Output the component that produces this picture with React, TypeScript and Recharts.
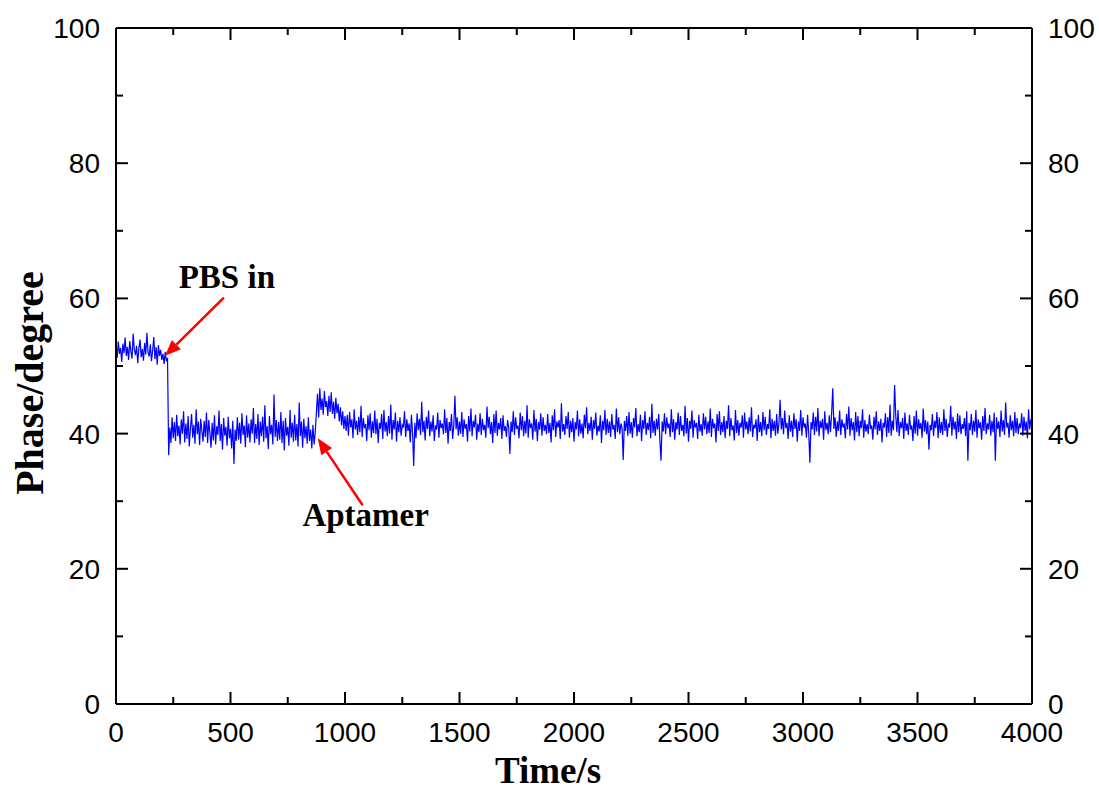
import {
  LineChart,
  Line,
  XAxis,
  YAxis,
  Label,
  ReferenceLine,
  ReferenceDot,
} from "recharts";

// phase readings, one every 5 s
const STEP = 5;

// 0 - 225 s, before PBS
const phaseStart = [
  52.9, 51.2, 53.6, 51.8, 52.7, 50.6, 53.3, 51.9, 54.2, 51.5,
  52.8, 50.9, 53.7, 52.2, 51.1, 54.8, 52.4, 51.6, 53.0, 50.4,
  52.6, 53.9, 51.3, 52.5, 50.8, 53.4, 51.7, 54.9, 52.0, 51.4,
  53.2, 50.7, 52.3, 54.3, 51.0, 52.8, 50.2, 53.1, 51.5, 52.4,
  50.9, 51.8, 50.3, 52.1, 50.7, 51.2,
];

// 230 - 870 s, PBS in
const phasePbs = [
  36.8, 40.9, 38.6, 42.4, 39.3, 41.7, 38.9, 42.8, 39.6, 41.2,
  38.4, 42.1, 40.0, 43.3, 38.7, 41.5, 39.2, 42.6, 38.1, 40.8,
  42.9, 39.4, 41.3, 38.5, 43.6, 39.9, 41.8, 38.3, 42.2, 40.4,
  38.8, 41.9, 39.5, 43.1, 38.6, 42.0, 40.1, 37.9, 41.6, 39.0,
  42.7, 38.4, 41.1, 39.8, 43.4, 38.9, 41.4, 37.6, 42.3, 39.7,
  41.0, 38.2, 42.5, 39.3, 40.7, 37.8, 41.9, 35.5, 40.6, 38.9,
  42.4, 39.1, 41.6, 38.5, 43.0, 39.8, 41.2, 38.0, 42.7, 39.4,
  41.5, 38.7, 42.1, 40.0, 43.8, 38.6, 41.4, 39.2, 42.9, 38.3,
  41.8, 39.6, 42.5, 38.8, 44.2, 39.3, 41.1, 37.7, 42.6, 39.9,
  41.3, 38.4, 45.8, 39.5, 42.0, 38.9, 41.7, 39.1, 43.2, 38.6,
  41.9, 37.5, 42.3, 39.7, 41.0, 38.2, 43.5, 39.4, 41.6, 38.8,
  42.8, 39.0, 41.4, 38.1, 44.6, 39.6, 41.8, 37.9, 42.2, 39.3,
  41.1, 38.5, 42.4, 38.9, 40.6, 37.8, 41.3, 38.4, 40.2,
];

// 875 - 1000 s, aptamer added
const phaseAptamer = [
  43.1, 45.9, 42.4, 46.7, 43.5, 45.2, 42.8, 46.3, 43.9, 44.8,
  42.6, 45.6, 43.2, 46.1, 42.9, 44.7, 42.2, 45.3, 43.0, 44.4,
  41.8, 43.9, 41.2, 43.3, 40.7, 42.6,
];

// 1005 - 4000 s
const phaseLate = [
  40.4, 42.8, 39.7, 43.2, 40.9, 42.1, 39.3, 43.6, 40.6, 41.9,
  39.8, 42.5, 40.2, 44.1, 39.5, 42.3, 40.8, 41.4, 38.9, 42.7,
  40.5, 43.0, 39.4, 41.8, 40.1, 43.4, 39.9, 42.2, 38.6, 41.6,
  40.7, 42.9, 39.2, 43.5, 40.3, 41.7, 39.6, 42.6, 40.0, 44.3,
  39.1, 42.0, 40.6, 43.1, 38.8, 41.9, 40.2, 42.4, 39.7, 41.3,
  40.9, 43.3, 39.5, 42.1, 40.4, 41.5, 38.7, 42.8, 40.1, 35.2,
  41.6, 39.3, 43.0, 40.5, 42.2, 39.8, 44.7, 40.2, 41.9, 39.0,
  42.5, 40.7, 43.4, 39.6, 41.8, 40.3, 42.7, 38.9, 41.2, 40.6,
  43.1, 39.4, 42.0, 40.8, 41.5, 39.9, 43.6, 40.1, 42.3, 38.5,
  41.7, 40.4, 42.9, 39.2, 41.1, 45.6, 40.6, 42.4, 39.7, 41.8,
  40.0, 43.2, 39.5, 42.1, 40.7, 41.4, 38.8, 42.6, 40.3, 43.7,
  39.6, 41.9, 40.9, 42.8, 39.1, 41.5, 40.2, 43.0, 39.8, 42.2,
  40.5, 41.3, 39.4, 44.0, 40.8, 42.5, 39.9, 41.7, 38.6, 42.9,
  40.1, 43.4, 39.7, 41.6, 40.6, 42.3, 39.2, 42.7, 40.4, 41.1,
  39.5, 42.0, 40.9, 37.0, 41.8, 40.2, 43.3, 39.8, 42.4, 40.7,
  41.2, 39.3, 43.1, 40.5, 42.6, 39.6, 41.9, 40.0, 44.2, 39.4,
  42.1, 40.8, 41.5, 39.1, 43.5, 40.3, 42.2, 38.9, 41.7, 40.6,
  43.0, 39.7, 42.4, 40.4, 41.3, 39.9, 42.9, 40.1, 41.6, 38.7,
  42.7, 40.5, 43.6, 39.5, 41.8, 40.9, 42.0, 39.2, 44.5, 40.3,
  41.4, 39.8, 42.6, 40.7, 43.2, 39.4, 41.9, 40.2, 42.3, 38.8,
  41.7, 40.6, 43.4, 39.6, 42.1, 40.0, 41.5, 39.3, 42.8, 40.8,
  43.9, 39.9, 41.6, 40.4, 42.5, 39.1, 42.0, 40.7, 43.1, 39.7,
  41.2, 40.3, 42.7, 38.6, 41.9, 40.5, 43.5, 39.8, 42.2, 40.1,
  41.8, 39.5, 42.9, 40.6, 41.3, 39.2, 43.7, 40.2, 42.4, 39.9,
  41.5, 40.8, 36.1, 41.9, 40.4, 42.6, 39.7, 43.2, 40.0, 41.7,
  39.4, 42.3, 40.9, 43.8, 39.6, 41.4, 40.2, 42.8, 38.9, 42.0,
  40.7, 43.3, 39.8, 41.6, 40.5, 42.5, 39.3, 44.4, 40.1, 41.9,
  39.7, 42.2, 40.6, 42.9, 39.0, 36.0, 41.8, 40.3, 43.0, 39.9,
  42.4, 40.8, 41.5, 39.5, 43.6, 40.2, 42.1, 39.1, 41.7, 40.6,
  43.1, 39.8, 42.6, 40.4, 41.3, 39.6, 44.1, 40.0, 42.3, 38.8,
  41.9, 40.7, 43.4, 39.4, 42.0, 40.9, 41.6, 39.2, 42.8, 40.3,
  41.4, 39.7, 43.0, 40.6, 42.5, 39.9, 41.8, 40.1, 43.7, 39.5,
  42.2, 40.8, 41.5, 38.7, 42.9, 40.4, 43.3, 39.8, 41.7, 40.2,
  42.6, 39.3, 41.9, 40.7, 44.2, 39.6, 42.3, 40.5, 41.2, 39.0,
  43.5, 40.1, 42.0, 39.7, 41.6, 40.9, 42.7, 39.4, 43.1, 40.6,
  41.8, 39.9, 42.4, 40.3, 43.9, 39.5, 41.3, 40.8, 42.1, 38.9,
  42.8, 40.2, 41.7, 39.6, 43.2, 40.5, 42.5, 39.8, 41.4, 40.7,
  43.6, 39.3, 42.2, 40.4, 41.9, 39.7, 42.9, 40.0, 41.5, 45.0,
  40.6, 42.3, 39.9, 43.4, 40.8, 41.6, 39.2, 42.7, 40.3, 41.9,
  39.5, 43.0, 40.7, 42.1, 38.8, 41.8, 40.4, 43.5, 39.7, 42.4,
  40.9, 41.5, 39.4, 42.8, 40.1, 35.7, 41.7, 40.6, 43.1, 39.8,
  42.5, 40.3, 43.8, 39.6, 41.9, 40.8, 42.2, 39.1, 43.3, 40.5,
  41.6, 39.9, 42.7, 40.2, 43.0, 46.7, 40.7, 42.4, 39.5, 41.8,
  40.4, 43.4, 39.8, 42.1, 40.9, 41.5, 39.3, 42.9, 40.6, 44.0,
  39.7, 42.3, 40.5, 41.7, 39.0, 43.2, 40.2, 42.6, 39.6, 41.9,
  40.8, 43.6, 39.4, 42.0, 40.3, 41.4, 39.9, 42.8, 40.7, 41.2,
  39.1, 42.5, 40.6, 43.3, 39.8, 41.8, 40.4, 42.2, 38.7, 41.6,
  40.9, 43.0, 39.5, 42.4, 40.1, 44.3, 39.7, 41.9, 40.5, 47.2,
  42.7, 40.2, 43.5, 39.6, 41.7, 40.8, 42.3, 39.2, 43.1, 40.4,
  41.5, 39.8, 42.8, 40.6, 41.2, 38.9, 42.6, 40.0, 43.4, 39.7,
  42.1, 40.7, 41.6, 39.4, 43.7, 40.3, 42.0, 39.9, 41.8, 37.6,
  41.3, 40.5, 42.9, 39.6, 41.9, 40.8, 43.2, 39.3, 42.4, 40.1,
  41.7, 39.8, 43.6, 40.4, 42.2, 39.5, 41.5, 40.9, 44.1, 39.7,
  42.5, 40.6, 41.8, 39.2, 43.0, 40.2, 42.7, 39.9, 41.4, 40.7,
  42.3, 39.6, 43.3, 36.0, 41.6, 40.5, 42.9, 39.8, 41.9, 40.3,
  43.5, 39.4, 42.1, 40.8, 41.7, 39.1, 42.6, 40.4, 43.8, 39.9,
  41.5, 40.6, 42.8, 39.7, 41.9, 40.2, 43.1, 36.0, 42.4, 40.7,
  41.8, 39.5, 43.4, 40.3, 42.0, 39.8, 44.6, 40.9, 41.6, 39.4,
  42.7, 40.5, 41.9, 39.6, 43.2, 40.1, 42.3, 39.9, 41.5, 40.8,
  43.0, 39.7, 42.5, 40.4, 41.8, 39.3, 43.6, 40.6, 42.1, 41.2,
];

const xTicks = [
  0, 250, 500, 750, 1000, 1250, 1500, 1750, 2000, 2250, 2500, 2750, 3000,
  3250, 3500, 3750, 4000,
];
const yTicks = [0, 10, 20, 30, 40, 50, 60, 70, 80, 90, 100];

const data = [...phaseStart, ...phasePbs, ...phaseAptamer, ...phaseLate].map(
  (v, i) => ({ t: i * STEP, phase: v })
);

const tickFont = "'Liberation Sans', Arial, sans-serif";
const titleFont = "'Liberation Serif', 'Times New Roman', serif";

const BottomTick = ({ x, y, payload }: any) => {
  const major = payload.value % 500 === 0;
  return (
    <g>
      <line x1={x} x2={x} y1={y} y2={y - (major ? 12 : 7)} stroke="#000" strokeWidth={2} />
      {major && (
        <text x={x} y={y + 38} textAnchor="middle" fontSize={28} fontFamily={tickFont} fill="#000">
          {payload.value}
        </text>
      )}
    </g>
  );
};

const TopTick = ({ x, y, payload }: any) => {
  const major = payload.value % 500 === 0;
  return <line x1={x} x2={x} y1={y} y2={y + (major ? 12 : 7)} stroke="#000" strokeWidth={2} />;
};

const LeftTick = ({ x, y, payload }: any) => {
  const major = payload.value % 20 === 0;
  return (
    <g>
      <line x1={x} x2={x + (major ? 12 : 7)} y1={y} y2={y} stroke="#000" strokeWidth={2} />
      {major && (
        <text x={x - 16} y={y + 10} textAnchor="end" fontSize={28} fontFamily={tickFont} fill="#000">
          {payload.value}
        </text>
      )}
    </g>
  );
};

const RightTick = ({ x, y, payload }: any) => {
  const major = payload.value % 20 === 0;
  return (
    <g>
      <line x1={x} x2={x - (major ? 12 : 7)} y1={y} y2={y} stroke="#000" strokeWidth={2} />
      {major && (
        <text x={x + 16} y={y + 10} textAnchor="start" fontSize={28} fontFamily={tickFont} fill="#000">
          {payload.value}
        </text>
      )}
    </g>
  );
};

// red arrow, tip at the second point of the segment
const Arrow = (props: any) => {
  const { x1, y1, x2, y2 } = props;
  const a = Math.atan2(y2 - y1, x2 - x1);
  const len = 16;
  const half = 6.5;
  const bx = x2 - len * Math.cos(a);
  const by = y2 - len * Math.sin(a);
  const px = -Math.sin(a) * half;
  const py = Math.cos(a) * half;
  return (
    <g>
      <line x1={x1} y1={y1} x2={bx} y2={by} stroke="#ff0000" strokeWidth={2.5} />
      <polygon
        points={`${x2},${y2} ${bx + px},${by + py} ${bx - px},${by - py}`}
        fill="#ff0000"
      />
    </g>
  );
};

const Note = (text: string) => (props: any) =>
  (
    <text
      x={props.cx}
      y={props.cy}
      textAnchor="middle"
      fontSize={33}
      fontWeight="bold"
      fontFamily={titleFont}
      fill="#000"
    >
      {text}
    </text>
  );

export default function App() {
  return (
    <div style={{ position: "absolute", left: 0, top: 0, background: "#fff" }}>
      <LineChart
        width={1099}
        height={791}
        data={data}
        margin={{ top: 0, right: 0, bottom: 0, left: 0 }}
      >
        <XAxis
          dataKey="t"
          type="number"
          domain={[0, 4000]}
          ticks={xTicks}
          allowDataOverflow
          height={87}
          tickSize={0}
          tickMargin={0}
          tickLine={false}
          axisLine={{ stroke: "#000", strokeWidth: 2 }}
          tick={<BottomTick />}
          interval={0}
        >
          <Label
            content={(p: any) => (
              <text
                x={p.viewBox.x + 432}
                y={p.viewBox.y + 79}
                textAnchor="middle"
                fontSize={37}
                fontWeight="bold"
                fontFamily={titleFont}
                fill="#000"
              >
                Time/s
              </text>
            )}
          />
        </XAxis>
        <XAxis
          xAxisId="top"
          orientation="top"
          dataKey="t"
          type="number"
          domain={[0, 4000]}
          ticks={xTicks}
          allowDataOverflow
          height={28}
          tickSize={0}
          tickMargin={0}
          tickLine={false}
          axisLine={{ stroke: "#000", strokeWidth: 2 }}
          tick={<TopTick />}
          interval={0}
        />
        <YAxis
          type="number"
          domain={[0, 100]}
          ticks={yTicks}
          allowDataOverflow
          width={116}
          tickSize={0}
          tickMargin={0}
          tickLine={false}
          axisLine={{ stroke: "#000", strokeWidth: 2 }}
          tick={<LeftTick />}
          interval={0}
        >
          <Label
            content={(p: any) => {
              const cx = p.viewBox.x + 43;
              const cy = p.viewBox.y + 355;
              return (
                <text
                  x={cx}
                  y={cy}
                  transform={`rotate(-90, ${cx}, ${cy})`}
                  textAnchor="middle"
                  fontSize={40}
                  fontWeight="bold"
                  fontFamily={titleFont}
                  fill="#000"
                >
                  Phase/degree
                </text>
              );
            }}
          />
        </YAxis>
        <YAxis
          yAxisId="right"
          orientation="right"
          type="number"
          domain={[0, 100]}
          ticks={yTicks}
          allowDataOverflow
          width={67}
          tickSize={0}
          tickMargin={0}
          tickLine={false}
          axisLine={{ stroke: "#000", strokeWidth: 2 }}
          tick={<RightTick />}
          interval={0}
        />
        <Line
          dataKey="phase"
          type="linear"
          stroke="#0000ff"
          strokeWidth={1.2}
          dot={false}
          isAnimationActive={false}
        />
        <ReferenceLine
          segment={[
            { x: 471, y: 60.1 },
            { x: 214, y: 51.5 },
          ]}
          shape={<Arrow />}
        />
        <ReferenceLine
          segment={[
            { x: 1077, y: 29.4 },
            { x: 881, y: 39.3 },
          ]}
          shape={<Arrow />}
        />
        <ReferenceDot x={484} y={61.5} r={0} shape={Note("PBS in")} />
        <ReferenceDot x={1090} y={26.3} r={0} shape={Note("Aptamer")} />
      </LineChart>
    </div>
  );
}
